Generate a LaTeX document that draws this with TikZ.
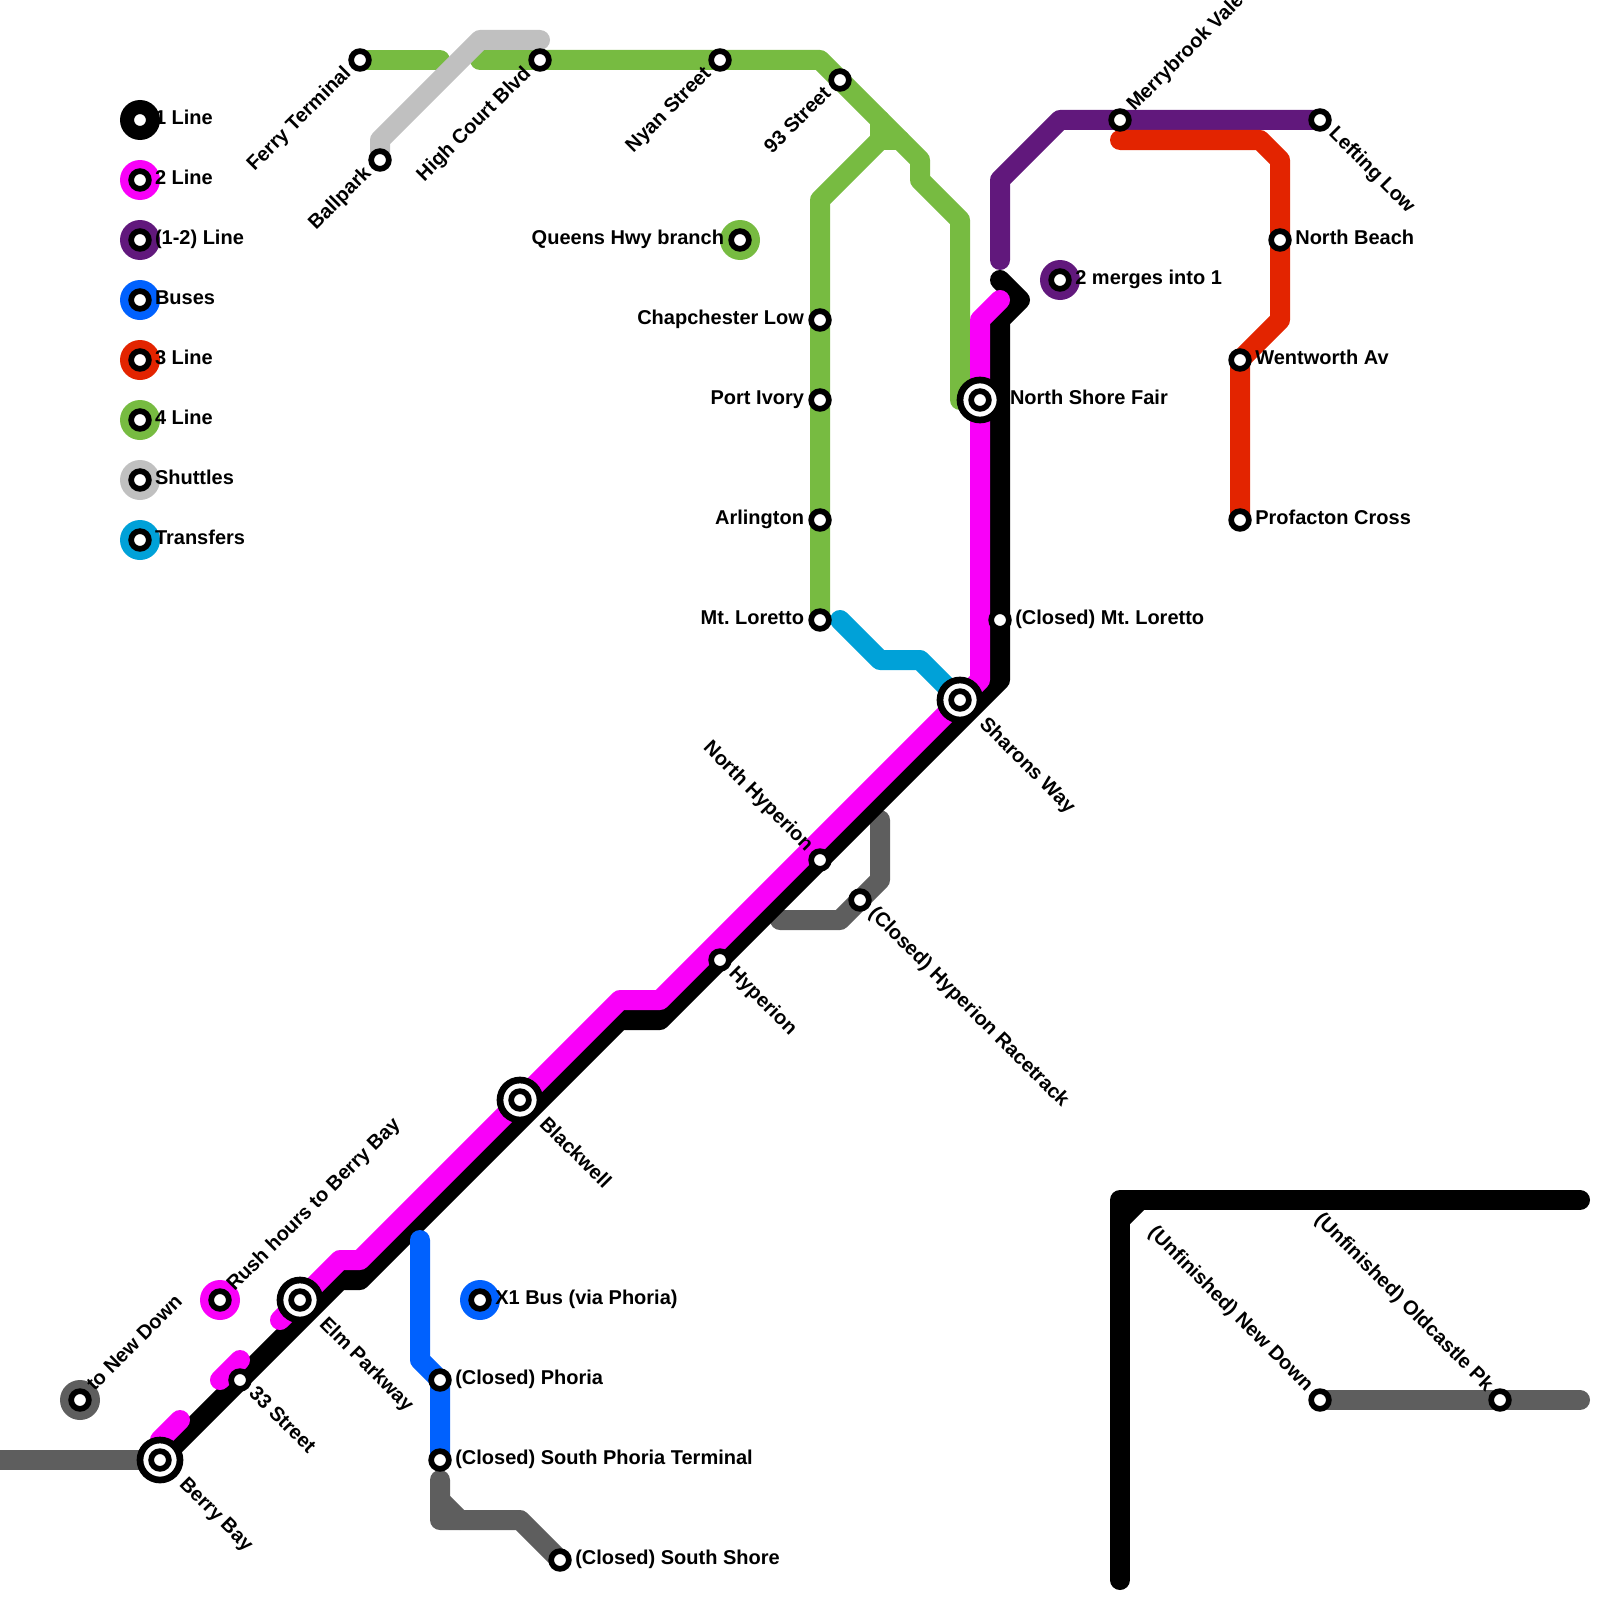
\documentclass[tikz,border=0pt]{standalone}
\usepackage{fontspec}
\setmainfont{Liberation Sans}[BoldFont={Liberation Sans Bold}]
\frenchspacing
\definecolor{cGreen}{HTML}{77BB41}
\definecolor{cMag}{HTML}{F900F9}
\definecolor{cPur}{HTML}{61187C}
\definecolor{cBlue}{HTML}{0061FE}
\definecolor{cRed}{HTML}{E32400}
\definecolor{cDark}{HTML}{5E5E5E}
\definecolor{cLight}{HTML}{C0C0C0}
\definecolor{cCyan}{HTML}{00A1D8}
\tikzset{
  rail/.style={line width=20pt,line cap=round,line join=round},
  sta/.style={circle,draw=black,fill=white,line width=5.7pt,minimum size=17.7pt,inner sep=0pt},
  hub/.style={circle,draw=black,fill=white,line width=6.7pt,minimum size=40pt,inner sep=0pt},
  disk/.style={circle,fill=#1,minimum size=40pt,inner sep=0pt},
  txt/.style={inner sep=0pt,outer sep=0pt,font=\fontsize{20}{24}\bfseries\selectfont},
  labE/.style={txt,anchor=base west,shift={(#1,4.5)}},
  labE/.default=15.3,
  labW/.style={txt,anchor=base east,shift={(-#1,4.5)}},
  labW/.default=16,
  labNE/.style={txt,shift={(0.707*#1+3.2,-0.707*#1+3.2)},rotate=45,anchor=base west},
  labNE/.default=16,
  labSE/.style={txt,shift={(0.707*#1-3.2,0.707*#1+3.2)},rotate=-45,anchor=base west},
  labSE/.default=16,
  labSW/.style={txt,shift={(-0.707*#1+3.2,0.707*#1+3.2)},rotate=45,anchor=base east},
  labSW/.default=16,
  labNW/.style={txt,shift={(-0.707*#1-3.2,-0.707*#1+3.2)},rotate=-45,anchor=base east},
  labNW/.default=16,
}
\begin{document}
\begin{tikzpicture}[x=1pt,y=-1pt]
\useasboundingbox (0,0) rectangle (1600,1600);
% stations
\coordinate (ferry) at (360,60);
\coordinate (ballpark) at (380,160);
\coordinate (highcourt) at (540,60);
\coordinate (nyan) at (720,60);
\coordinate (n93) at (840,80);
\coordinate (queens) at (740,240);
\coordinate (chap) at (820,320);
\coordinate (ivory) at (820,400);
\coordinate (arl) at (820,520);
\coordinate (lorG) at (820,620);
\coordinate (nsf) at (980,400);
\coordinate (lorB) at (1000,620);
\coordinate (sharons) at (960,700);
\coordinate (nhyp) at (820,860);
\coordinate (race) at (860,900);
\coordinate (hyp) at (720,960);
\coordinate (black) at (520,1100);
\coordinate (elm) at (300,1300);
\coordinate (st33) at (240,1380);
\coordinate (berry) at (160,1460);
\coordinate (rush) at (220,1300);
\coordinate (tond) at (80,1400);
\coordinate (x1) at (480,1300);
\coordinate (phoria) at (440,1380);
\coordinate (sphoria) at (440,1460);
\coordinate (sshore) at (560,1560);
\coordinate (merry) at (1120,120);
\coordinate (left) at (1320,120);
\coordinate (nbeach) at (1280,240);
\coordinate (went) at (1240,360);
\coordinate (prof) at (1240,520);
\coordinate (merge) at (1060,280);
\coordinate (unew) at (1320,1400);
\coordinate (uold) at (1500,1400);
% waypoints
\coordinate (g1) at (440,60); \coordinate (g2) at (480,60); \coordinate (g3) at (820,60);
\coordinate (g4) at (920,160); \coordinate (g5) at (920,180); \coordinate (g6) at (960,220);
\coordinate (g7) at (960,400); \coordinate (g8) at (820,200); \coordinate (g9) at (880,140);
\coordinate (g10) at (880,120); \coordinate (g11) at (900,140);
\coordinate (s1) at (380,140); \coordinate (s2) at (480,40); \coordinate (s3) at (540,40);
\coordinate (p1) at (1000,260); \coordinate (p2) at (1000,180); \coordinate (p3) at (1060,120);
\coordinate (k1) at (1000,280); \coordinate (k2) at (1020,300); \coordinate (k3) at (1000,320);
\coordinate (k4) at (1000,680); \coordinate (k5) at (660,1020); \coordinate (k6) at (620,1020);
\coordinate (k7) at (360,1280); \coordinate (k8) at (340,1280);
\coordinate (m1) at (1000,300); \coordinate (m2) at (980,320); \coordinate (m3) at (980,680);
\coordinate (m4) at (660,1000); \coordinate (m5) at (620,1000); \coordinate (m6) at (360,1260);
\coordinate (m7) at (340,1260); \coordinate (m8) at (280,1320);
\coordinate (m9) at (240,1360); \coordinate (m10) at (220,1380);
\coordinate (m11) at (180,1420); \coordinate (m12) at (160,1440);
\coordinate (d0) at (0,1460);
\coordinate (d1) at (880,820); \coordinate (d2) at (880,880); \coordinate (d3) at (840,920); \coordinate (d4) at (780,920);
\coordinate (d5) at (440,1480); \coordinate (d6) at (440,1520); \coordinate (d7) at (520,1520);
\coordinate (d8) at (440,1500); \coordinate (d9) at (460,1520);
\coordinate (d10) at (1580,1400);
\coordinate (c1) at (840,620); \coordinate (c2) at (880,660); \coordinate (c3) at (920,660);
\coordinate (b1) at (420,1240); \coordinate (b2) at (420,1360);
\coordinate (r1) at (1120,140); \coordinate (r2) at (1260,140); \coordinate (r3) at (1280,160); \coordinate (r4) at (1280,320);
\coordinate (u1) at (1120,1580); \coordinate (u2) at (1120,1200); \coordinate (u3) at (1580,1200);
\coordinate (u4) at (1120,1220); \coordinate (u5) at (1140,1200);
% lines
\draw[rail,cDark] (d0) -- (berry);
\draw[rail,cDark] (d1) -- (d2) -- (d3) -- (d4);
\draw[rail,cDark] (sshore) -- (d7) -- (d6) -- (d5);
\draw[rail,cDark] (d8) -- (d9);
\draw[rail,cDark] (unew) -- (d10);
\draw[rail,black] (k1) -- (k2) -- (k3) -- (k4) -- (k5) -- (k6) -- (k7) -- (k8) -- (berry);
\draw[rail,black] (u1) -- (u2) -- (u3);
\draw[rail,black] (u4) -- (u5);
\draw[rail,cPur] (p1) -- (p2) -- (p3) -- (left);
\draw[rail,cRed] (r1) -- (r2) -- (r3) -- (r4) -- (went) -- (prof);
\draw[rail,cGreen] (ferry) -- (g1);
\draw[rail,cGreen] (g2) -- (g3) -- (g4) -- (g5) -- (g6) -- (g7);
\draw[rail,cGreen] (lorG) -- (g8) -- (g9) -- (g10);
\draw[rail,cGreen] (g9) -- (g11);
\draw[rail,cLight] (ballpark) -- (s1) -- (s2) -- (s3);
\draw[rail,cMag] (m1) -- (m2) -- (m3) -- (m4) -- (m5) -- (m6) -- (m7) -- (m8);
\draw[rail,cMag] (m9) -- (m10);
\draw[rail,cMag] (m11) -- (m12);
\draw[rail,cBlue] (b1) -- (b2) -- (phoria) -- (sphoria);
\draw[rail,cCyan] (c1) -- (c2) -- (c3) -- (sharons);
% legend
\foreach \n/\y/\c in {a/120/black,b/180/cMag,c/240/cPur,d/300/cBlue,e/360/cRed,f/420/cGreen,g/480/cLight,h/540/cCyan}{
  \node[disk=\c] (leg\n) at (140,\y) {};
  \node[sta] (legs\n) at (140,\y) {};
}
% disks
\node[disk=cGreen] (dqueens) at (queens) {};
\node[disk=cPur] (dmerge) at (merge) {};
\node[disk=cMag] (drush) at (rush) {};
\node[disk=cDark] (dtond) at (tond) {};
\node[disk=cBlue] (dx1) at (x1) {};
% hubs
\foreach \s in {nsf,sharons,black,elm,berry}{ \node[hub] (h\s) at (\s) {}; }
% station rings
\foreach \s in {ferry,ballpark,highcourt,nyan,n93,queens,chap,ivory,arl,lorG,nsf,lorB,sharons,nhyp,race,hyp,black,elm,st33,berry,rush,tond,x1,phoria,sphoria,sshore,merry,left,nbeach,went,prof,merge,unew,uold}{
  \node[sta] (o\s) at (\s) {};
}
% legend text
\node[txt,anchor=base west] (ta) at (155,124.5) {1 Line};
\node[txt,anchor=base west] (tb) at (155,184.5) {2 Line};
\node[txt,anchor=base west] (tc) at (155,244.5) {(1-2) Line};
\node[txt,anchor=base west] (td) at (155,304.5) {Buses};
\node[txt,anchor=base west] (te) at (155,364.5) {3 Line};
\node[txt,anchor=base west] (tf) at (155,424.5) {4 Line};
\node[txt,anchor=base west] (tg) at (155,484.5) {Shuttles};
\node[txt,anchor=base west] (th) at (155,544.5) {Transfers};
% labels
\node[labSW] (l1) at (ferry) {Ferry Terminal};
\node[labSW] (l2) at (ballpark) {Ballpark};
\node[labSW] (l3) at (highcourt) {High Court Blvd};
\node[labSW] (l4) at (nyan) {Nyan Street};
\node[labSW] (l5) at (n93) {93 Street};
\node[labW] (l6) at (queens) {Queens Hwy branch};
\node[labW] (l7) at (chap) {Chapchester Low};
\node[labW] (l8) at (ivory) {Port Ivory};
\node[labW] (l9) at (arl) {Arlington};
\node[labW] (l10) at (lorG) {Mt. Loretto};
\node[labE=30] (l11) at (nsf) {North Shore Fair};
\node[labE] (l12) at (lorB) {(Closed) Mt. Loretto};
\node[labSE=31] (l13) at (sharons) {Sharons Way};
\node[labNW] (l14) at (nhyp) {North Hyperion};
\node[labSE] (l15) at (race) {(Closed) Hyperion Racetrack};
\node[labSE] (l16) at (hyp) {Hyperion};
\node[labSE=31] (l17) at (black) {Blackwell};
\node[labNE] (l18) at (rush) {Rush hours to Berry Bay};
\node[labNE] (l19) at (tond) {to New Down};
\node[labSE=31] (l20) at (elm) {Elm Parkway};
\node[labSE] (l21) at (st33) {33 Street};
\node[labSE=31] (l22) at (berry) {Berry Bay};
\node[labE] (l23) at (x1) {X1 Bus (via Phoria)};
\node[labE] (l24) at (phoria) {(Closed) Phoria};
\node[labE] (l25) at (sphoria) {(Closed) South Phoria Terminal};
\node[labE] (l26) at (sshore) {(Closed) South Shore};
\node[labNE] (l27) at (merry) {Merrybrook Vale};
\node[labSE] (l28) at (left) {Lefting Low};
\node[labE] (l29) at (nbeach) {North Beach};
\node[labE] (l30) at (went) {Wentworth Av};
\node[labE] (l31) at (prof) {Profacton Cross};
\node[labE] (l32) at (merge) {2 merges into 1};
\node[labNW] (l33) at (unew) {(Unfinished) New Down};
\node[labNW] (l34) at (uold) {(Unfinished) Oldcastle Pk};
\end{tikzpicture}
\end{document}
